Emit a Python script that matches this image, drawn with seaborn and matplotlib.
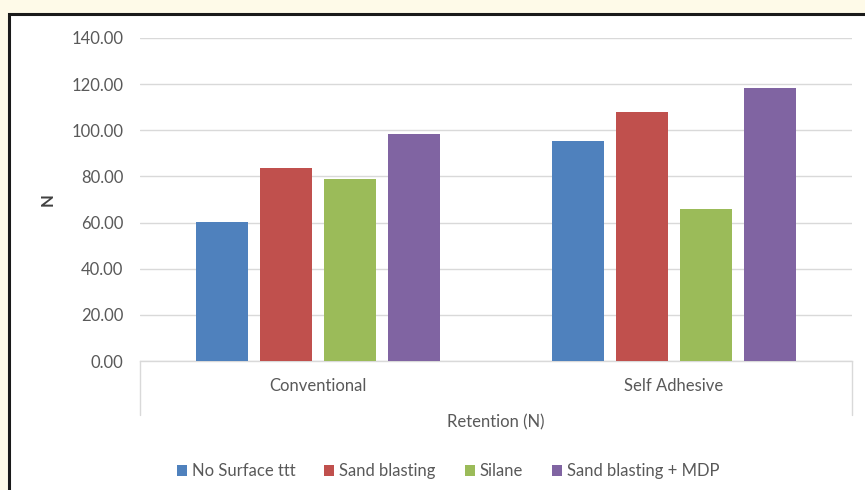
import matplotlib
matplotlib.use("Agg")
import matplotlib.pyplot as plt
import seaborn as sns
import pandas as pd
from matplotlib.patches import Rectangle

categories = ["Conventional", "Self Adhesive"]
series = ["No Surface ttt", "Sand blasting", "Silane", "Sand blasting + MDP"]
no_surface = [60.2, 95.5]
sand_blasting = [83.7, 108.0]
silane = [78.8, 66.0]
sand_mdp = [98.3, 118.3]
yticks = [0, 20, 40, 60, 80, 100, 120, 140]
colors = ["#4f81bd", "#c0504d", "#9bbb59", "#8064a2"]

rows = []
for s, vals in zip(series, [no_surface, sand_blasting, silane, sand_mdp]):
    for c, v in zip(categories, vals):
        rows.append({"Category": c, "Series": s, "N": v})
df = pd.DataFrame(rows)

sns.set_theme(style="white")
plt.rcParams["font.family"] = ["Lato", "DejaVu Sans"]

fig = plt.figure(figsize=(8.65, 4.9), dpi=100)
fig.patch.set_facecolor("#fefae8")
# white chart area with black frame on top/left
bg = fig.add_axes([0, 0, 1, 1], zorder=-5)
bg.set_axis_off()
bg.set_xlim(0, 1)
bg.set_ylim(0, 1)
bg.add_patch(Rectangle((9 / 865, -0.05), 1.1, (490 - 14) / 490 + 0.05,
                       facecolor="white", edgecolor="#1a1a1a", linewidth=2.2,
                       clip_on=False))

ax = fig.add_axes([140 / 865, 1 - 361 / 490, (852 - 140) / 865, (361 - 38) / 490], zorder=2)
sns.barplot(data=df, x="Category", y="N", hue="Series", order=categories,
            hue_order=series, palette=colors, width=0.72, gap=0.2,
            saturation=1, ax=ax, legend=True, zorder=3, linewidth=0,
            edgecolor="none")

ax.set_ylim(0, 140)
ax.set_yticks(yticks)
ax.set_yticklabels([f"{t:.2f}" for t in yticks])
ax.set_xlim(-0.5, 1.5)
ax.yaxis.grid(True, color="#d9d9d9", linewidth=1)
ax.set_axisbelow(True)
for side in ["top", "right", "left"]:
    ax.spines[side].set_visible(False)
ax.spines["bottom"].set_color("#d9d9d9")
ax.spines["bottom"].set_linewidth(1)
ax.tick_params(axis="both", length=0, colors="#595959", labelsize=12)
ax.tick_params(axis="x", pad=12)
ax.tick_params(axis="y", pad=12)
ax.patch.set_alpha(0)

ax.set_ylabel("N", color="#404040", fontsize=12, fontweight="bold", labelpad=11)
ax.set_xlabel("Retention (N)", color="#595959", fontsize=12, labelpad=15)

# table-like vertical lines under the axis
depth = (415 - 361) / 323
for xa in [0, 1]:
    ax.plot([xa, xa], [0, -depth], transform=ax.transAxes, color="#d9d9d9",
            linewidth=1, clip_on=False)

leg = ax.legend(loc="upper center", bbox_to_anchor=(0.433, -0.27), ncol=4,
                frameon=False, fontsize=12, handlelength=0.6, handleheight=0.6,
                handletextpad=0.3, columnspacing=1.75)
for t in leg.get_texts():
    t.set_color("#595959")

fig.savefig("out.png", dpi=100, facecolor=fig.get_facecolor())
